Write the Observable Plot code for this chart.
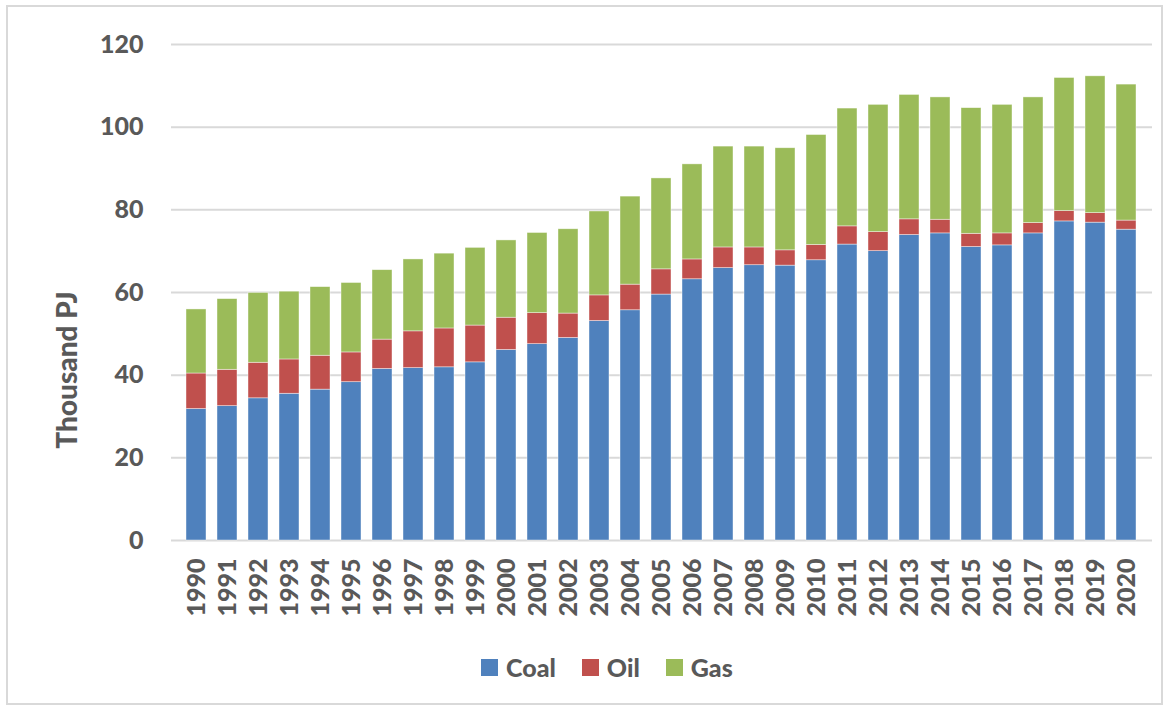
<!DOCTYPE html>
<html><head><meta charset="utf-8">
<script src="https://cdn.jsdelivr.net/npm/d3@7"></script>
<script src="https://cdn.jsdelivr.net/npm/@observablehq/plot@0.6"></script>
<style>
body{margin:0;background:#fff;font-family:Lato,sans-serif;}
#wrap{position:relative;width:1170px;height:711px;overflow:hidden;}
#frame{position:absolute;left:6px;top:5px;width:1157px;height:700px;border:2px solid #d9d9d9;box-sizing:border-box;}
#chart{position:absolute;left:0;top:0;}
#ytitle{position:absolute;left:66px;top:370px;transform:translate(-50%,-50%) rotate(-90deg);font-family:Lato,sans-serif;font-weight:900;font-size:28px;color:#595959;white-space:nowrap;}
#legend{position:absolute;left:481px;top:652px;display:flex;align-items:center;font-family:Lato,sans-serif;font-weight:900;font-size:25px;color:#595959;}
.item{display:flex;align-items:center;margin-right:26px}
.sw{width:17px;height:17px;margin-right:8px}
</style></head><body>
<div id="wrap"><div id="frame"></div><div id="chart"></div><div id="ytitle">Thousand PJ</div><div id="legend"></div></div>
<script>
const years = [1990,1991,1992,1993,1994,1995,1996,1997,1998,1999,2000,2001,2002,2003,2004,2005,2006,2007,2008,2009,2010,2011,2012,2013,2014,2015,2016,2017,2018,2019,2020];
const coal = [31.8,32.5,34.4,35.5,36.5,38.3,41.5,41.7,41.9,43.1,46.1,47.5,49.0,53.1,55.7,59.5,63.2,65.9,66.6,66.5,67.8,71.6,70.0,73.9,74.3,71.0,71.4,74.3,77.2,76.9,75.2];
const oil  = [8.6,8.8,8.6,8.3,8.2,7.2,7.1,8.9,9.4,8.9,7.8,7.5,5.9,6.2,6.2,6.1,4.8,5.0,4.3,3.7,3.7,4.4,4.6,3.8,3.3,3.2,2.9,2.5,2.5,2.3,2.2];
const gas  = [15.5,17.1,16.9,16.4,16.6,16.8,16.8,17.4,18.1,18.8,18.7,19.4,20.4,20.3,21.3,22.0,23.0,24.4,24.4,24.7,26.6,28.5,30.8,30.1,29.6,30.4,31.1,30.4,32.2,33.1,32.9];
const fuels = ["Coal","Oil","Gas"];
const colors = ["#4f81bd","#c0504d","#9bbb59"];
const yTicks = [0,20,40,60,80,100,120];

const series = {Coal: coal, Oil: oil, Gas: gas};
const data = [];
years.forEach((yr, i) => {
  fuels.forEach(f => data.push({year: String(yr), fuel: f, value: series[f][i]}));
});

const chart = Plot.plot({
  width: 1170,
  height: 640,
  marginLeft: 171,
  marginRight: 18,
  marginTop: 44,
  marginBottom: 100,
  x: {type: "band", domain: years.map(String), paddingInner: 0.34, paddingOuter: 0.17, label: null},
  y: {domain: [0, 120], label: null},
  color: {domain: fuels, range: colors},
  style: {fontFamily: "Lato, sans-serif", fontSize: "25px", fontWeight: "900", color: "#595959", background: "transparent"},
  marks: [
    Plot.gridY(yTicks, {stroke: "#d9d9d9", strokeWidth: 2, strokeOpacity: 1}),
    Plot.barY(data, {x: "year", y: "value", fill: "fuel", stroke: "#ffffff", strokeWidth: 0.7, strokeOpacity: 0.6}),
    Plot.axisY(yTicks, {tickSize: 0, tickPadding: 28, label: null}),
    Plot.axisX({tickRotate: -90, tickSize: 0, tickPadding: 18, label: null})
  ]
});
document.getElementById("chart").appendChild(chart);

const legend = document.getElementById("legend");
fuels.forEach((f, i) => {
  const it = document.createElement("div");
  it.className = "item";
  const sw = document.createElement("div");
  sw.className = "sw";
  sw.style.background = colors[i];
  const tx = document.createElement("span");
  tx.textContent = f;
  it.appendChild(sw); it.appendChild(tx);
  legend.appendChild(it);
});
</script>
</body></html>
